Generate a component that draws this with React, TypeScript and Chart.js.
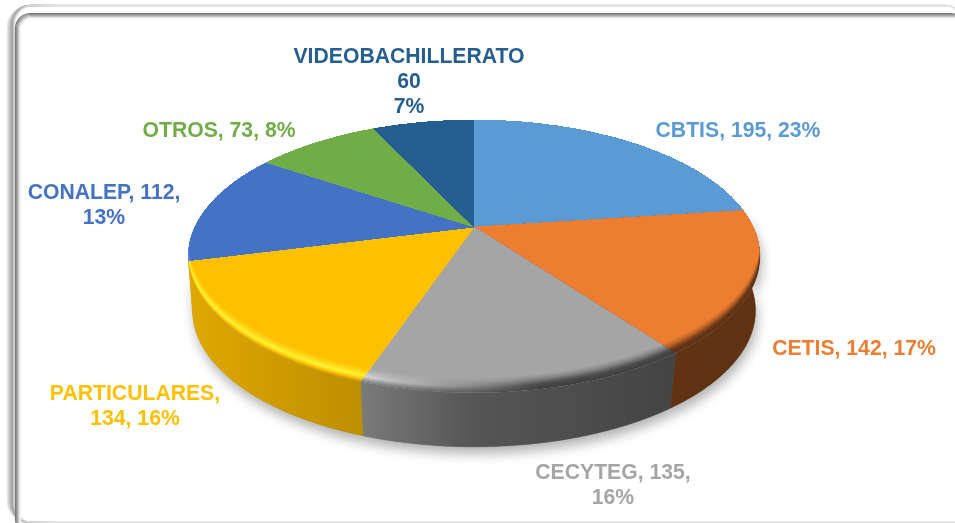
import React, { useEffect, useRef } from "react";
import { Chart, registerables } from "chart.js";

Chart.register(...registerables);

const categories = ["CBTIS", "CETIS", "CECYTEG", "PARTICULARES", "CONALEP", "OTROS", "VIDEOBACHILLERATO"];
const values = [195, 142, 135, 134, 112, 73, 60];
const percents = [23, 17, 16, 16, 13, 8, 7];
const colors = ["#5B9BD5", "#ED7D31", "#A5A5A5", "#FFC000", "#4472C4", "#70AD47", "#255E91"];

// label layout: centre x, first line y, and how the parts (name, value, percent) are broken into lines
const labelLayout: { x: number; y: number; lines: number[][] }[] = [
  { x: 738, y: 131.5, lines: [[0, 1, 2]] },
  { x: 854, y: 349.5, lines: [[0, 1, 2]] },
  { x: 613, y: 473.5, lines: [[0, 1], [2]] },
  { x: 135, y: 394.5, lines: [[0], [1, 2]] },
  { x: 104, y: 193.5, lines: [[0, 1], [2]] },
  { x: 219, y: 131.5, lines: [[0, 1, 2]] },
  { x: 409, y: 57.5, lines: [[0], [1], [2]] },
];

// perspective projection of the pie disc
const CX = 474, CY = 227, RX = 279, RY = 130, K = 0.216;
const DEPTH = 54, BOTTOM_SCALE = 0.985, BEVEL = 15;
const WARP_RIGHT = 0.028, WARP_LEFT = 0.042, WARP_BOTTOM = 0.05;

function project(angle: number, dy = 0, sx = 1, warpAmount?: number) {
  const c = Math.cos(angle);
  const amount = warpAmount ?? (c > 0 ? WARP_RIGHT : WARP_LEFT);
  const warped = angle + amount * c * Math.max(0, Math.sin(angle));
  const u = Math.cos(warped), v = Math.sin(warped);
  const w = 1 - K * v;
  return { x: CX + (sx * RX * u) / w, y: CY + (RY * v) / w + dy };
}

function rgb(hex: string) {
  return [1, 3, 5].map((i) => parseInt(hex.slice(i, i + 2), 16));
}
function mulColor(hex: string, f: number) {
  const c = rgb(hex).map((n) => Math.round(n * f));
  return `rgb(${c[0]},${c[1]},${c[2]})`;
}
function addColor(hex: string, f: number) {
  if (f < 0) return mulColor(hex, 1 + f);
  const c = rgb(hex).map((n) => Math.min(255, Math.round(n + f * 255)));
  return `rgb(${c[0]},${c[1]},${c[2]})`;
}

function lerpCurve(curve: number[][], t: number) {
  for (let i = 1; i < curve.length; i++) {
    if (t <= curve[i][0]) {
      const [a, av] = curve[i - 1], [b, bv] = curve[i];
      return av + ((bv - av) * (t - a)) / (b - a);
    }
  }
  return curve[curve.length - 1][1];
}

const bevelLeft = [[0, -0.22], [0.15, -0.02], [0.4, 0.2], [0.7, 0.09], [1, 0]];
const bevelRight = [[0, -0.62], [0.35, -0.55], [0.7, -0.2], [1, 0]];
const wallShade = [[188, 0.88], [362, 0.74], [470, 0.52], [672, 0.41], [760, 0.4]];

function drawFrame(ctx: CanvasRenderingContext2D) {
  ctx.save();
  ctx.fillStyle = "#ffffff";
  ctx.fillRect(0, 0, 955, 523);
  const outer = ["#e6e6e6", "#d8d8d8", "#c8c8c8", "#b8b8b8", "#a8a8a8", "#a4a4a4", "#bcbcbc", "#dedede"];
  outer.forEach((col, i) => {
    const g = ctx.createLinearGradient(0, 0, 60, 0);
    g.addColorStop(0, col);
    g.addColorStop(0.5, col);
    g.addColorStop(1, "#e4e4e4");
    ctx.strokeStyle = g;
    ctx.lineWidth = 1.4;
    ctx.beginPath();
    ctx.roundRect(7.5 + i, 5.5, 951 - i, 517, [22 - i * 0.5, 12, 4, 22 - i * 0.5]);
    ctx.stroke();
  });
  const inner = ["#7a7a7a", "#8e8e8e", "#a8a8a8", "#c6c6c6", "#e4e4e4", "#f6f6f6"];
  inner.forEach((col, i) => {
    ctx.strokeStyle = col;
    ctx.lineWidth = 1.2;
    ctx.beginPath();
    ctx.roundRect(15.5 + i, 13.5 + i, 950, 520, 15 - i * 0.6);
    ctx.stroke();
  });
  ctx.restore();
}

function slicePath(ctx: CanvasRenderingContext2D, a0: number, a1: number) {
  ctx.beginPath();
  ctx.moveTo(CX, CY);
  const n = Math.ceil((a1 - a0) / 0.01);
  for (let i = 0; i <= n; i++) {
    const p = project(a0 + ((a1 - a0) * i) / n);
    ctx.lineTo(p.x, p.y);
  }
  ctx.closePath();
}

function discPath(ctx: CanvasRenderingContext2D, dy: number, sx = 1) {
  ctx.beginPath();
  for (let i = 0; i <= 360; i++) {
    const p = project((i * Math.PI) / 180, dy, sx);
    if (i === 0) ctx.moveTo(p.x, p.y);
    else ctx.lineTo(p.x, p.y);
  }
  ctx.closePath();
}

function wallPath(ctx: CanvasRenderingContext2D, a0: number, a1: number) {
  ctx.beginPath();
  const n = Math.ceil((a1 - a0) / 0.01);
  for (let i = 0; i <= n; i++) {
    const p = project(a0 + ((a1 - a0) * i) / n);
    if (i === 0) ctx.moveTo(p.x, p.y);
    else ctx.lineTo(p.x, p.y);
  }
  for (let i = n; i >= 0; i--) {
    const p = project(a0 + ((a1 - a0) * i) / n, DEPTH, BOTTOM_SCALE, WARP_BOTTOM);
    ctx.lineTo(p.x, p.y);
  }
  ctx.closePath();
}

const pie3d = {
  id: "pie3d",
  beforeDraw(chart: any) {
    drawFrame(chart.ctx);
  },
  beforeDatasetsDraw(chart: any) {
    const ctx: CanvasRenderingContext2D = chart.ctx;
    const arcs = chart.getDatasetMeta(0).data;
    const front = arcs.filter((arc: any) => {
      const { startAngle, endAngle } = arc.getProps(["startAngle", "endAngle"], true);
      return Math.sin((startAngle + endAngle) / 2) > 0;
    });

    // soft ground shadow, cast only by the walls that face the viewer
    ctx.save();
    ctx.shadowColor = "rgba(0,0,0,0.3)";
    ctx.shadowBlur = 12;
    ctx.shadowOffsetX = 2;
    ctx.shadowOffsetY = 7;
    ctx.fillStyle = "#888";
    front.forEach((arc: any) => {
      const { startAngle, endAngle } = arc.getProps(["startAngle", "endAngle"], true);
      wallPath(ctx, startAngle, endAngle);
      ctx.fill();
    });
    ctx.restore();

    // walls
    front.forEach((arc: any) => {
      const { startAngle: a0, endAngle: a1 } = arc.getProps(["startAngle", "endAngle"], true);
      const base = arc.options.backgroundColor;
      const g = ctx.createLinearGradient(188, 0, 760, 0);
      wallShade.forEach(([x, f]) => g.addColorStop((x - 188) / 572, mulColor(base, f)));
      wallPath(ctx, a0, a1);
      ctx.fillStyle = g;
      ctx.fill();
      ctx.strokeStyle = g;
      ctx.lineWidth = 0.5;
      ctx.stroke();
    });

    // top faces with a bevelled rim
    arcs.forEach((arc: any) => {
      const { startAngle: a0, endAngle: a1 } = arc.getProps(["startAngle", "endAngle"], true);
      const base = arc.options.backgroundColor;
      ctx.save();
      slicePath(ctx, a0, a1);
      ctx.clip();
      const steps = BEVEL * 2;
      for (let s = 0; s <= steps; s++) {
        const t = s / steps;
        const g = ctx.createLinearGradient(188, 0, 760, 0);
        g.addColorStop(0, addColor(base, lerpCurve(bevelLeft, t)));
        g.addColorStop(0.3, addColor(base, lerpCurve(bevelLeft, t)));
        g.addColorStop(0.62, addColor(base, lerpCurve(bevelRight, t)));
        g.addColorStop(1, addColor(base, lerpCurve(bevelRight, t)));
        ctx.fillStyle = g;
        discPath(ctx, -t * BEVEL);
        ctx.fill();
      }
      ctx.fillStyle = base;
      discPath(ctx, -BEVEL);
      ctx.fill();
      ctx.fillRect(0, 0, 955, CY);
      ctx.restore();
    });

    // labels
    ctx.save();
    ctx.font = 'bold 21.2px "Liberation Sans", Arial, sans-serif';
    ctx.textAlign = "center";
    ctx.textBaseline = "middle";
    labelLayout.forEach((lab, i) => {
      const parts = [categories[i], String(values[i]), `${percents[i]}%`];
      ctx.fillStyle = colors[i];
      lab.lines.forEach((line, j) => {
        const comma = lab.lines.length === 2 && j === 0 ? "," : "";
        ctx.fillText(line.map((k) => parts[k]).join(", ") + comma, lab.x, lab.y + j * 25);
      });
    });
    ctx.restore();
    return false;
  },
};

export default function App() {
  const ref = useRef<HTMLCanvasElement>(null);
  useEffect(() => {
    document.body.style.margin = "0";
    const chart = new Chart(ref.current!, {
      type: "pie",
      data: {
        labels: categories,
        datasets: [{ data: values, backgroundColor: colors, borderWidth: 0 }],
      },
      options: {
        responsive: false,
        animation: false,
        plugins: { legend: { display: false }, tooltip: { enabled: false } },
      },
      plugins: [pie3d],
    });
    return () => chart.destroy();
  }, []);
  return <canvas ref={ref} width={955} height={523} style={{ display: "block" }} />;
}
